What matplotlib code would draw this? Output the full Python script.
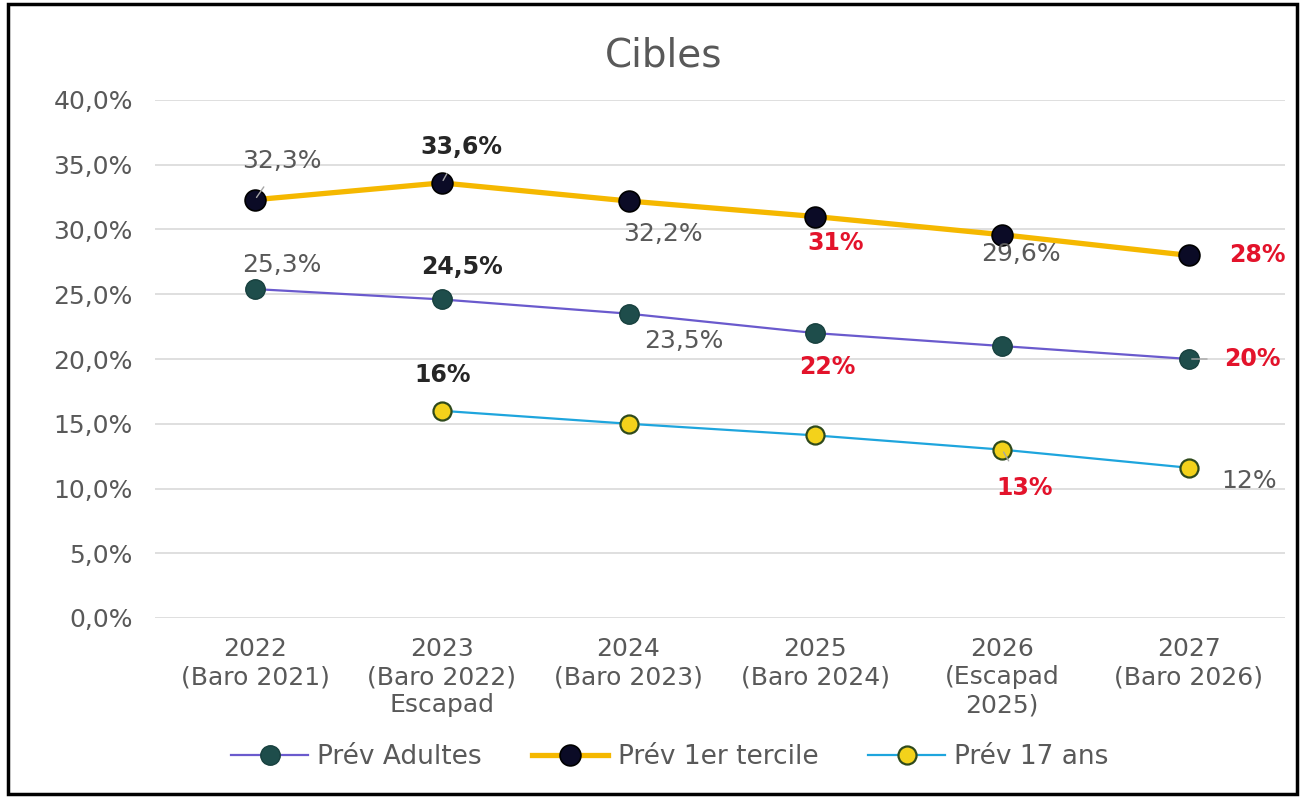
import matplotlib.pyplot as plt
from matplotlib.patches import Rectangle
import numpy as np

plt.rcParams['font.family'] = ['DejaVu Sans']

# Données
categories = ["2022\n(Baro 2021)", "2023\n(Baro 2022)\nEscapad", "2024\n(Baro 2023)",
              "2025\n(Baro 2024)", "2026\n(Escapad\n2025)", "2027\n(Baro 2026)"]
adultes = [25.4, 24.6, 23.5, 22.0, 21.0, 20.0]
tercile = [32.3, 33.6, 32.2, 31.0, 29.6, 28.0]
ans17 = [np.nan, 16.0, 15.0, 14.1, 13.0, 11.6]

labels_adultes = ["25,3%", "24,5%", "23,5%", "22%", None, "20%"]
labels_tercile = ["32,3%", "33,6%", "32,2%", "31%", "29,6%", "28%"]
labels_17 = [None, "16%", None, None, "13%", "12%"]

GRIS = "#595959"
ROUGE = "#E3132B"

fig = plt.figure(figsize=(13.01, 7.98), dpi=100)
ax = fig.add_axes([155 / 1301, 180 / 798, 1130 / 1301, 518 / 798])
x = np.arange(len(categories))

ax.plot(x, adultes, color="#6A5ACD", lw=1.6, marker="o", ms=14,
        mfc="#1E4D4B", mec="#17403E", mew=1, label="Prév Adultes", zorder=3)
ax.plot(x, tercile, color="#F5B800", lw=3.8, marker="o", ms=15,
        mfc="#0B0B26", mec="#000000", mew=1.2, label="Prév 1er tercile", zorder=3)
ax.plot(x, ans17, color="#1EA5DD", lw=1.6, marker="o", ms=13,
        mfc="#F3D21B", mec="#2F4A1C", mew=1.6, label="Prév 17 ans", zorder=3)

# étiquettes: (décalage en pixels, style)
styles = {"n": dict(color=GRIS, fontweight="normal", fontsize=18),
          "b": dict(color="#262626", fontweight="bold", fontsize=17),
          "r": dict(color=ROUGE, fontweight="bold", fontsize=17)}

def annoter(vals, labs, offs, sts, leaders):
    for i, (v, lab) in enumerate(zip(vals, labs)):
        if lab is None:
            continue
        ap = dict(arrowstyle="-", color="#A6A6A6", lw=1, shrinkA=10, shrinkB=2) if leaders[i] else None
        ax.annotate(lab, (x[i], v), xytext=offs[i], textcoords="offset pixels",
                    ha="center", va="center", arrowprops=ap,
                    zorder=4, **styles[sts[i]])

annoter(tercile, labels_tercile,
        [(27, 39), (20, 36), (34, -33), (20, -26), (19, -19), (68, 0)],
        ["n", "b", "n", "r", "n", "r"],
        [True, True, False, False, False, False])
annoter(adultes, labels_adultes,
        [(27, 24), (20, 32), (55, -27), (12, -34), (0, 0), (63, 0)],
        ["n", "b", "n", "r", "n", "r"],
        [False, False, False, False, False, True])
annoter(ans17, labels_17,
        [(0, 0), (1, 36), (0, 0), (0, 0), (22, -38), (60, -13)],
        ["n", "b", "n", "n", "r", "n"],
        [False, False, False, False, True, False])

ax.set_xlim(-0.535, 5.514)
ax.set_ylim(0, 40)
ax.set_yticks(np.arange(0, 41, 5))
ax.set_yticklabels([f"{t:.1f}%".replace(".", ",") for t in np.arange(0, 41, 5)])
ax.set_xticks(x)
ax.set_xticklabels(categories, linespacing=1.2)
ax.tick_params(axis="both", length=0, labelsize=18, colors=GRIS)
ax.tick_params(axis="y", pad=16)
ax.tick_params(axis="x", pad=14)
ax.grid(axis="y", color="#D9D9D9", lw=1.2)
ax.set_axisbelow(True)
for s in ax.spines.values():
    s.set_visible(False)

fig.text(0.51, 0.931, "Cibles", ha="center", va="center", fontsize=28, color=GRIS)

fig.legend(loc="center", bbox_to_anchor=(0.515, 0.051), ncol=3, frameon=False,
           fontsize=19, labelcolor=GRIS, handlelength=2.9, columnspacing=1.9,
           handletextpad=0.35)

fig.patches.append(Rectangle((8 / 1301, 4 / 798), 1289 / 1301, 790 / 798,
                             transform=fig.transFigure, fill=False,
                             edgecolor="black", lw=2.5))

fig.savefig("out.png", dpi=100)
